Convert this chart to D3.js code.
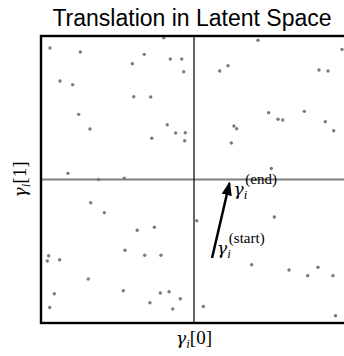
<!DOCTYPE html>
<html><head><meta charset="utf-8">
<script src="https://cdn.jsdelivr.net/npm/d3@7"></script>
<style>html,body{margin:0;padding:0;background:#fff;overflow:hidden}</style>
</head><body>
<svg id="c" width="344" height="356"></svg>
<script>
const title = "Translation in Latent Space";
const xs = [-0.941,-0.743,-0.198,-0.325,-0.403,-0.155,-0.080,-0.067,-0.876,-0.793,-0.394,-0.283,-0.754,-0.680,-0.175,-0.120,-0.057,-0.276,-0.061,-0.824,-0.623,-0.456,-0.675,-0.586,-0.371,-0.259,-0.451,-0.322,-0.216,-0.950,-0.959,-0.878,-0.691,-0.462,-0.913,-0.220,-0.163,-0.090,-0.288,-0.943,-0.139,0.061,0.925,0.418,0.967,0.168,0.222,0.817,0.876,0.488,0.549,0.580,0.721,0.858,0.913,0.261,0.279,0.244,0.505,0.018,0.525,0.377,0.621,0.743,0.810,0.908];
const ys = [0.916,0.889,0.988,0.872,0.807,0.840,0.840,0.751,0.686,0.661,0.577,0.575,0.454,0.352,0.382,0.324,0.326,0.287,0.270,0.043,0.000,0.009,-0.162,-0.231,-0.354,-0.333,-0.493,-0.528,-0.528,-0.531,-0.568,-0.559,-0.693,-0.775,-0.796,-0.791,-0.782,-0.831,-0.859,-0.892,-0.902,-0.885,-0.949,0.970,0.907,0.756,0.793,0.763,0.756,0.466,0.420,0.415,0.475,0.403,0.340,0.373,0.354,0.254,0.077,-0.287,-0.261,-0.594,-0.631,-0.670,-0.612,-0.670];
const arrowStart = [0.118, -0.547];
const arrowEnd = [0.232, -0.024];
const startLabel = "start", endLabel = "end";

const svg = d3.select("#c");
const L = 41, R = 347, T = 36, B = 323;
const x = d3.scaleLinear().domain([-1, 1]).range([L, R]);
const y = d3.scaleLinear().domain([-1, 1]).range([B, T]);

svg.append("defs").append("marker").attr("id","ah")
  .attr("viewBox","0 0 10 10").attr("refX",9).attr("refY",5)
  .attr("markerWidth",5.5).attr("markerHeight",4.2).attr("markerUnits","strokeWidth")
  .attr("orient","auto").attr("preserveAspectRatio","none")
  .append("path").attr("d","M0,0 L10,5 L0,10 Z").attr("fill","#000");

// center lines
svg.append("line").attr("x1",x(-1)).attr("x2",x(1)).attr("y1",y(0)).attr("y2",y(0))
  .attr("stroke","#808080").attr("stroke-width",1.8);
svg.append("line").attr("x1",x(0)).attr("x2",x(0)).attr("y1",y(-1)).attr("y2",y(1))
  .attr("stroke","#000").attr("stroke-width",1.2);

// points
svg.append("g").selectAll("circle").data(xs.map((v,i)=>[v,ys[i]])).join("circle")
  .attr("cx",d=>x(d[0])).attr("cy",d=>y(d[1])).attr("r",1.7).attr("fill","#7a7a7a");

// frame
svg.append("rect").attr("x",x(-1)).attr("y",y(1)).attr("width",x(1)-x(-1)).attr("height",y(-1)-y(1))
  .attr("fill","none").attr("stroke","#000").attr("stroke-width",2.4);

// arrow
svg.append("line").attr("x1",x(arrowStart[0])).attr("y1",y(arrowStart[1]))
  .attr("x2",x(arrowEnd[0])).attr("y2",y(arrowEnd[1]))
  .attr("stroke","#000").attr("stroke-width",2.5).attr("marker-end","url(#ah)");

const serif = "'DejaVu Serif','Liberation Serif',serif";
const roman = "'Liberation Serif','DejaVu Serif',serif";
function gammaLabel(px, py, sup) {
  const t = svg.append("text").attr("x",px).attr("y",py).attr("fill","#000");
  t.append("tspan").attr("font-family",serif).attr("font-style","italic").attr("font-size",17).text("γ");
  t.append("tspan").attr("font-family",roman).attr("font-style","italic").attr("font-size",13).attr("dy",4).text("i");
  t.append("tspan").attr("font-family",roman).attr("font-size",15).attr("dx",-2).attr("dy",-15).text("(" + sup + ")");
}
gammaLabel(x(arrowEnd[0]) + 4, y(arrowEnd[1]) + 12, endLabel);
gammaLabel(x(arrowStart[0]) + 5, y(arrowStart[1]) - 4, startLabel);

// title
svg.append("text").attr("x",192).attr("y",26).attr("text-anchor","middle")
  .attr("font-family","'Liberation Sans',Arial,sans-serif").attr("font-size",23).text(title);

// axis labels
function axisLabel(g, idx) {
  const t = g.append("text").attr("text-anchor","middle").attr("fill","#000");
  t.append("tspan").attr("font-family",serif).attr("font-style","italic").attr("font-size",17).text("γ");
  t.append("tspan").attr("font-family",roman).attr("font-style","italic").attr("font-size",13).attr("dy",4).text("i");
  t.append("tspan").attr("font-family",roman).attr("font-size",19).attr("dy",-4).text("[" + idx + "]");
}
axisLabel(svg.append("g").attr("transform",`translate(${x(0)},${344})`), 0);
axisLabel(svg.append("g").attr("transform",`translate(${26},${y(0)}) rotate(-90)`), 1);
</script>
</body></html>
